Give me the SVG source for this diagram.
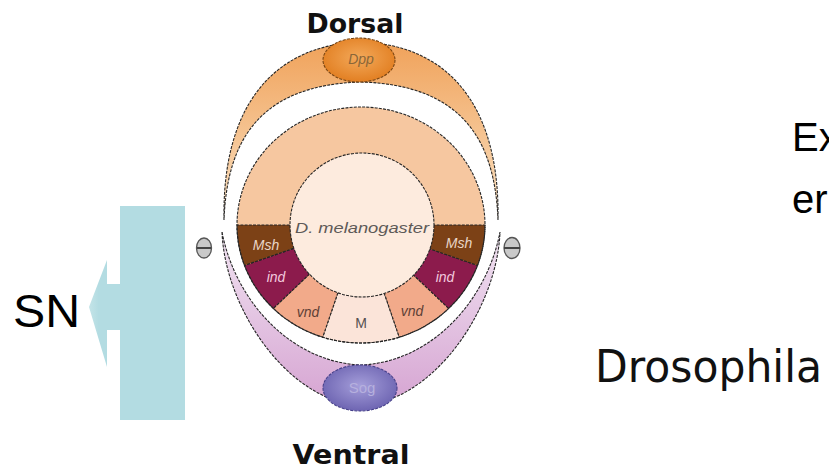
<svg xmlns="http://www.w3.org/2000/svg" width="829" height="473" viewBox="0 0 829 473">
  <defs>
    <style>
      .edge { stroke: #262626; stroke-width: 1.1; stroke-dasharray: 3 1.2; }
      .title { font-family: "DejaVu Sans", "Liberation Sans", sans-serif; font-weight: bold; fill: #111; }
      .tag { font-family: "Liberation Sans", Arial, sans-serif; font-style: italic; font-size: 14px; text-anchor: middle; }
      .big { font-family: "Liberation Sans", Arial, sans-serif; fill: #000; }
    </style>
    <linearGradient id="dppBand" gradientUnits="userSpaceOnUse" x1="0" y1="42" x2="0" y2="220">
      <stop offset="0" stop-color="#F0A25A"/>
      <stop offset="1" stop-color="#FAE2C4"/>
    </linearGradient>
    <linearGradient id="sogBand" gradientUnits="userSpaceOnUse" x1="0" y1="232" x2="0" y2="405">
      <stop offset="0" stop-color="#F1E4F2"/>
      <stop offset="1" stop-color="#D6A4D2"/>
    </linearGradient>
    <radialGradient id="dppBlob" cx="0.5" cy="0.45" r="0.55">
      <stop offset="0" stop-color="#F3A95A"/>
      <stop offset="1" stop-color="#E27F22"/>
    </radialGradient>
    <radialGradient id="sogBlob" cx="0.5" cy="0.45" r="0.55">
      <stop offset="0" stop-color="#A59EDA"/>
      <stop offset="1" stop-color="#6E65B2"/>
    </radialGradient>
    <linearGradient id="barFill" x1="0" y1="0" x2="1" y2="0">
      <stop offset="0" stop-color="#C4E4E8"/>
      <stop offset="0.3" stop-color="#B3DCE2"/>
      <stop offset="1" stop-color="#B3DCE2"/>
    </linearGradient>
  </defs>

  <rect width="829" height="473" fill="#FFFFFF"/>

  <!-- dorsal Dpp crescent -->
  <g id="dpp">
    <path class="edge" fill="url(#dppBand)" d="M 224 220 C 222 110, 270 45, 361 42 C 452 45, 500 110, 498 220 C 495 140, 462 85, 361 82 C 260 85, 227 140, 224 220 Z"/>
    <ellipse cx="359" cy="60" rx="36" ry="22" fill="url(#dppBlob)" stroke="#7A4512" stroke-width="1.1" stroke-dasharray="3 1.2"/>
    <text class="tag" x="361" y="64" fill="#8A6638">Dpp</text>
  </g>

  <!-- ventral Sog crescent -->
  <g id="sog">
    <path class="edge" fill="url(#sogBand)" d="M 222 232 C 225 310, 290 403, 361 405 C 432 403, 497 310, 500 232 C 487 300, 432 362, 361 365 C 290 362, 235 300, 222 232 Z"/>
    <ellipse cx="360" cy="388" rx="37" ry="23" fill="url(#sogBlob)" stroke="#46408A" stroke-width="1.1" stroke-dasharray="3 1.2"/>
    <text x="362" y="393" font-family="Liberation Sans, Arial, sans-serif" font-size="15" text-anchor="middle" fill="#B6B0DE">Sog</text>
  </g>

  <!-- embryo cross-section -->
  <g id="embryo">
    <ellipse cx="361" cy="225" rx="124" ry="118" fill="#F6C7A0"/>
    <path class="edge" fill="#FBE4D9" d="M 361 225 L 322.7 337.2 A 124 118 0 0 0 399.3 337.2 Z"/>
    <path class="edge" fill="#F2AA8A" d="M 361 225 L 273.3 308.4 A 124 118 0 0 0 322.7 337.2 Z"/>
    <path class="edge" fill="#F2AA8A" d="M 361 225 L 399.3 337.2 A 124 118 0 0 0 448.7 308.4 Z"/>
    <path class="edge" fill="#8C1B4C" d="M 361 225 L 244.5 265.4 A 124 118 0 0 0 273.3 308.4 Z"/>
    <path class="edge" fill="#8C1B4C" d="M 361 225 L 448.7 308.4 A 124 118 0 0 0 477.5 265.4 Z"/>
    <path class="edge" fill="#7C4116" d="M 361 225 L 237 225 A 124 118 0 0 0 244.5 265.4 Z"/>
    <path class="edge" fill="#7C4116" d="M 361 225 L 477.5 265.4 A 124 118 0 0 0 485 225 Z"/>
    <circle class="edge" cx="362" cy="225" r="72" fill="#FDEBDE"/>
    <ellipse class="edge" cx="361" cy="225" rx="124" ry="118" fill="none"/>
    <text class="tag" x="362" y="233" fill="#5E5A58" textLength="134" lengthAdjust="spacingAndGlyphs">D. melanogaster</text>
    <text class="tag" x="266" y="250" fill="#EAD6C6">Msh</text>
    <text class="tag" x="459" y="248" fill="#EAD6C6">Msh</text>
    <text class="tag" x="276" y="282" fill="#F3CADE">ind</text>
    <text class="tag" x="445" y="282" fill="#F3CADE">ind</text>
    <text class="tag" x="308" y="317" fill="#5E4036">vnd</text>
    <text class="tag" x="412" y="316" fill="#5E4036">vnd</text>
    <text x="361" y="328" font-family="Liberation Sans, Arial, sans-serif" font-size="14" text-anchor="middle" fill="#555050">M</text>
  </g>

  <!-- repressor marks -->
  <g id="minus-left">
    <ellipse cx="204" cy="248" rx="7.5" ry="10" fill="#C9C9C9" stroke="#555" stroke-width="1.3"/>
    <line x1="197" y1="248" x2="211" y2="248" stroke="#444" stroke-width="2"/>
  </g>
  <g id="minus-right">
    <ellipse cx="512" cy="248" rx="8" ry="10.5" fill="#C9C9C9" stroke="#555" stroke-width="1.3"/>
    <line x1="504" y1="248" x2="520" y2="248" stroke="#444" stroke-width="2"/>
  </g>

  <!-- axis labels -->
  <g id="dorsal-label">
    <text class="title" x="355" y="33" font-size="26" text-anchor="middle" textLength="97" lengthAdjust="spacingAndGlyphs">Dorsal</text>
  </g>
  <g id="ventral-label">
    <text class="title" x="351" y="464" font-size="26" text-anchor="middle" textLength="117" lengthAdjust="spacingAndGlyphs">Ventral</text>
  </g>

  <!-- SN output -->
  <g id="sn-bar">
    <rect x="120" y="206" width="65" height="214" fill="#B3DCE2"/>
  </g>
  <g id="connectors">
    <polygon points="121,284 107,284 107,260 89,307 107,367 107,330 121,330" fill="url(#barFill)"/>
  </g>
  <g id="sn-label">
    <text class="big" x="13" y="327" font-size="47" textLength="67" lengthAdjust="spacingAndGlyphs" fill="#111">SN</text>
  </g>

  <!-- right-hand captions -->
  <g id="species-label">
    <text x="595" y="382" font-family="DejaVu Sans, Liberation Sans, sans-serif" font-size="44" fill="#111" textLength="227" lengthAdjust="spacingAndGlyphs">Drosophila</text>
  </g>
  <g id="heading">
    <text class="big" x="792" y="151" font-size="40">Ex</text>
    <text class="big" x="792" y="213" font-size="40">er</text>
  </g>
</svg>
